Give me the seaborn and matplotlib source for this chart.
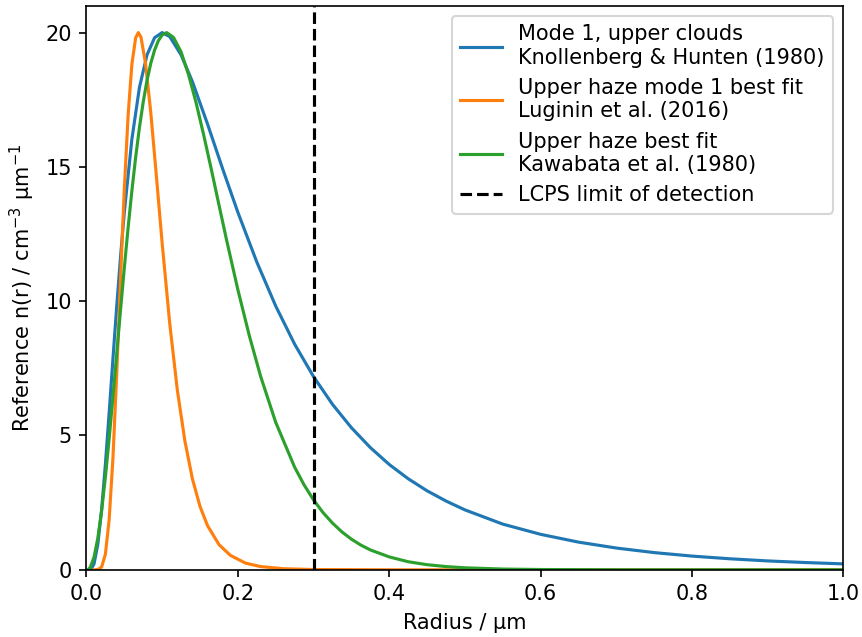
import matplotlib
matplotlib.use("Agg")
import matplotlib.pyplot as plt
import seaborn as sns
import pandas as pd

# Mode 1, upper clouds (Knollenberg & Hunten 1980)
blue_x = [0.003, 0.006, 0.010, 0.015, 0.020, 0.025, 0.030, 0.035, 0.040, 0.045,
          0.050, 0.060, 0.070, 0.080, 0.090, 0.100, 0.110, 0.125, 0.140, 0.160,
          0.180, 0.200, 0.225, 0.250, 0.275, 0.300, 0.325, 0.350, 0.375, 0.400,
          0.425, 0.450, 0.475, 0.500, 0.550, 0.600, 0.650, 0.700, 0.750, 0.800,
          0.850, 0.900, 0.950, 1.000]
blue_y = [0.0, 0.02, 0.22, 0.95, 2.23, 3.92, 5.85, 7.86, 9.82, 11.65,
          13.31, 16.03, 17.96, 19.17, 19.81, 20.0, 19.85, 19.17, 18.17, 16.59,
          14.92, 13.31, 11.46, 9.82, 8.40, 7.19, 6.16, 5.29, 4.55, 3.92,
          3.39, 2.94, 2.56, 2.23, 1.70, 1.32, 1.03, 0.81, 0.64, 0.51,
          0.41, 0.33, 0.27, 0.22]

# Upper haze mode 1 best fit (Luginin et al. 2016)
orange_x = [0.010, 0.015, 0.020, 0.025, 0.030, 0.035, 0.040, 0.045, 0.050, 0.055,
            0.060, 0.065, 0.0685, 0.072, 0.078, 0.085, 0.092, 0.100, 0.110, 0.120,
            0.130, 0.140, 0.150, 0.160, 0.175, 0.190, 0.210, 0.230, 0.260, 0.300,
            0.400, 1.000]
orange_y = [0.0, 0.01, 0.10, 0.58, 1.87, 4.17, 7.31, 10.83, 14.17, 16.91,
            18.82, 19.81, 20.0, 19.83, 18.86, 17.01, 14.78, 12.16, 9.17, 6.70,
            4.80, 3.38, 2.36, 1.64, 0.94, 0.54, 0.25, 0.12, 0.04, 0.01,
            0.0, 0.0]

# Upper haze best fit (Kawabata et al. 1980)
green_x = [0.002, 0.005, 0.010, 0.015, 0.020, 0.025, 0.030, 0.035, 0.040, 0.045,
           0.050, 0.055, 0.060, 0.065, 0.070, 0.075, 0.080, 0.085, 0.090, 0.095,
           0.100, 0.106, 0.115, 0.125, 0.135, 0.145, 0.155, 0.165, 0.175, 0.185,
           0.200, 0.215, 0.230, 0.250, 0.275, 0.2875, 0.300, 0.3125, 0.325, 0.3375,
           0.350, 0.3625, 0.375, 0.400, 0.425, 0.450, 0.475, 0.500, 0.550, 0.600,
           0.700, 1.000]
green_y = [0.0, 0.09, 0.47, 1.18, 2.19, 3.45, 4.89, 6.44, 8.06, 9.67,
           11.24, 12.73, 14.11, 15.36, 16.47, 17.42, 18.22, 18.86, 19.35, 19.70,
           19.91, 20.0, 19.82, 19.28, 18.42, 17.37, 16.17, 14.90, 13.59, 12.29,
           10.43, 8.73, 7.21, 5.49, 3.82, 3.16, 2.60, 2.13, 1.74, 1.41,
           1.14, 0.92, 0.74, 0.48, 0.30, 0.19, 0.12, 0.074, 0.028, 0.010,
           0.001, 0.0]

labels = ["Mode 1, upper clouds\nKnollenberg & Hunten (1980)",
          "Upper haze mode 1 best fit\nLuginin et al. (2016)",
          "Upper haze best fit\nKawabata et al. (1980)",
          "LCPS limit of detection"]
lcps_limit = 0.3

DPI = 150
fig = plt.figure(figsize=(862 / DPI, 637 / DPI), dpi=DPI)
ax = fig.add_axes([0.1003, 0.1055, 0.8782, 0.8855])

series = [(blue_x, blue_y, "#1f77b4"), (orange_x, orange_y, "#ff7f0e"), (green_x, green_y, "#2ca02c")]
for (xs, ys, c), lab in zip(series, labels[:3]):
    df = pd.DataFrame({"r": xs, "n": ys})
    sns.lineplot(data=df, x="r", y="n", color=c, label=lab, ax=ax, linewidth=1.5)

ax.axvline(lcps_limit, color="k", linestyle="--", linewidth=1.5, label=labels[3])

ax.set_xlim(0, 1.0)
ax.set_ylim(0, 21)
ax.set_xticks([0.0, 0.2, 0.4, 0.6, 0.8, 1.0])
ax.set_yticks([0, 5, 10, 15, 20])
ax.set_xlabel("Radius / µm")
ax.set_ylabel("Reference n(r) / cm$^{-3}$ µm$^{-1}$")
ax.legend(loc="upper right")

fig.savefig("out.png", dpi=DPI)
